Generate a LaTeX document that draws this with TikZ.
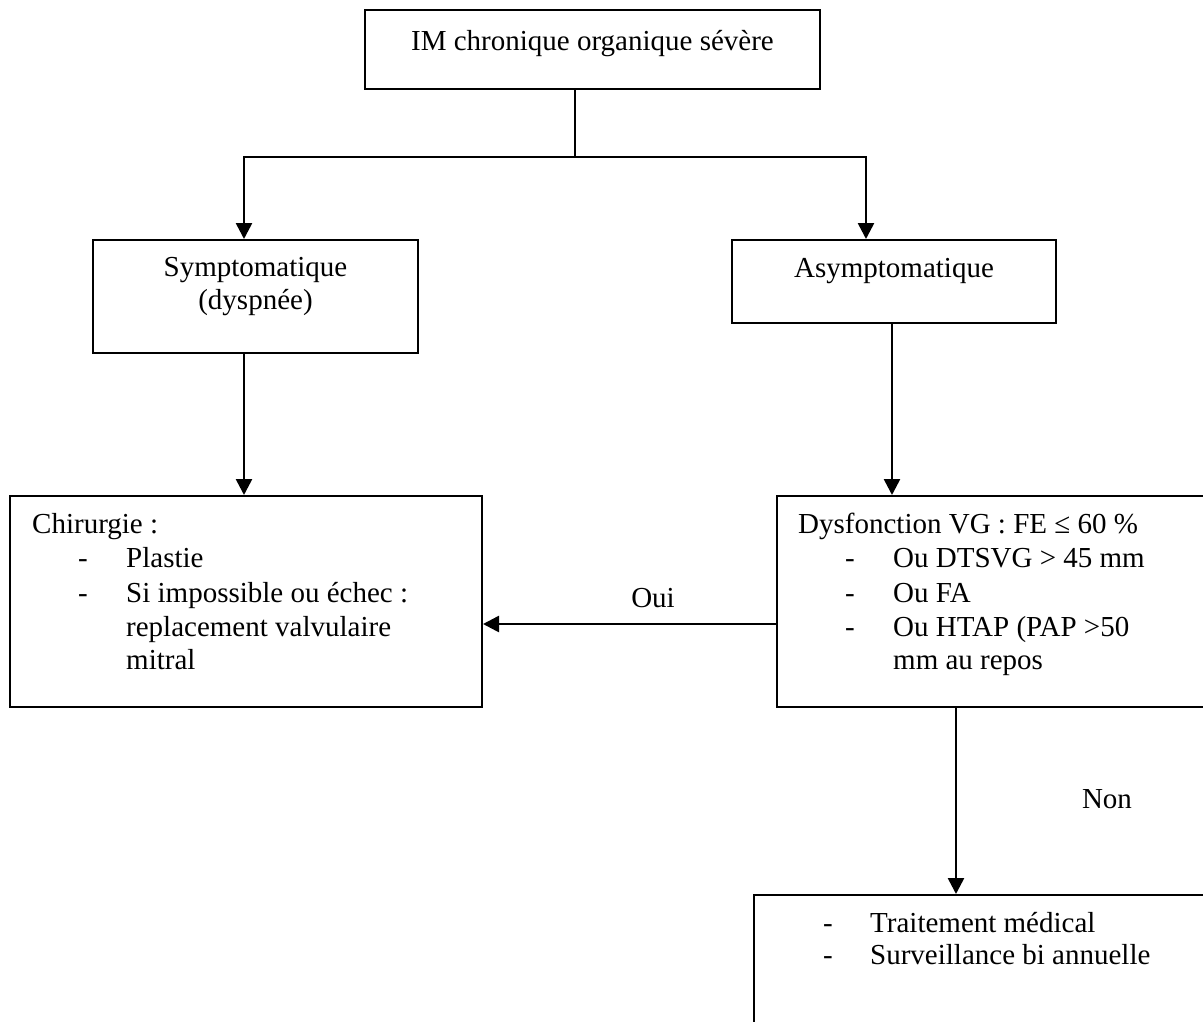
\documentclass[tikz,border=0pt]{standalone}
\usepackage{fontspec}
\setmainfont{Liberation Serif}
\usetikzlibrary{arrows.meta}
\begin{document}
\begin{tikzpicture}[x=1pt,y=-1pt,
  box/.style={draw, line width=2pt, rectangle, inner sep=0pt},
  txt/.style={font=\fontsize{29}{33}\selectfont, inner sep=0pt},
  conn/.style={line width=1.6pt},
  arr/.style={line width=2.6pt, -{Triangle[length=16pt,width=16pt]}},
]
\useasboundingbox (0,0) rectangle (1203,1021);
\clip (0,0) rectangle (1203,1021);

% boxes
\node[box, minimum width=455pt, minimum height=79pt] (top) at (592.5,49.5) {};
\node[box, minimum width=325pt, minimum height=113pt] (sym) at (255.5,296.5) {};
\node[box, minimum width=324pt, minimum height=83pt] (asym) at (894,281.5) {};
\node[box, minimum width=472pt, minimum height=211pt] (chir) at (246,601.5) {};
\node[box, minimum width=473pt, minimum height=211pt] (dysf) at (1013.5,601.5) {};
\node[box, minimum width=496pt, minimum height=205pt] (trait) at (1002,997.5) {};

% texts
\node[txt] (ttop) at (592.5,44) {IM chronique organique sévère};
\node[txt, align=center] (tsym) at (255.5,287) {Symptomatique\\(dyspnée)};
\node[txt] (tasym) at (894,271) {Asymptomatique};

\node[txt, anchor=base west] (c0) at (32,533) {Chirurgie :};
\node[txt, anchor=base] (c1d) at (83,567) {-};
\node[txt, anchor=base west] (c1) at (126,567) {Plastie};
\node[txt, anchor=base] (c2d) at (83,602) {-};
\node[txt, anchor=base west] (c2) at (126,602) {Si impossible ou échec :};
\node[txt, anchor=base west] (c3) at (126,636) {replacement valvulaire};
\node[txt, anchor=base west] (c4) at (126,669) {mitral};

\node[txt, anchor=base west] (d0) at (798,533) {Dysfonction VG : FE ≤ 60 \%};
\node[txt, anchor=base] (d1d) at (850,567) {-};
\node[txt, anchor=base west] (d1) at (893,567) {Ou DTSVG > 45 mm};
\node[txt, anchor=base] (d2d) at (850,602) {-};
\node[txt, anchor=base west] (d2) at (893,602) {Ou FA};
\node[txt, anchor=base] (d3d) at (850,636) {-};
\node[txt, anchor=base west] (d3) at (893,636) {Ou HTAP (PAP >50};
\node[txt, anchor=base west] (d4) at (893,669) {mm au repos};

\node[txt, anchor=base] (t1d) at (828,932) {-};
\node[txt, anchor=base west] (t1) at (870,932) {Traitement médical};
\node[txt, anchor=base] (t2d) at (828,964) {-};
\node[txt, anchor=base west] (t2) at (870,964) {Surveillance bi annuelle};

\node[txt, anchor=base] (oui) at (653,607) {Oui};
\node[txt, anchor=base] (non) at (1107,808) {Non};

% connectors
\coordinate (fork) at (575,157);
\coordinate (sx) at (244,0);
\coordinate (ax) at (866,0);
\coordinate (adx) at (892,0);
\coordinate (dx) at (956,0);
\coordinate (oy) at (0,624);

\draw[conn] (top.south -| fork) -- (fork);
\draw[arr] (fork) -| (sym.north -| sx);
\draw[arr] (fork) -| (asym.north -| ax);
\draw[arr] (sym.south -| sx) -- (chir.north -| sx);
\draw[arr] (asym.south -| adx) -- (dysf.north -| adx);
\draw[arr] (dysf.west |- oy) -- (chir.east |- oy);
\draw[arr] (dysf.south -| dx) -- (trait.north -| dx);
\end{tikzpicture}
\end{document}
